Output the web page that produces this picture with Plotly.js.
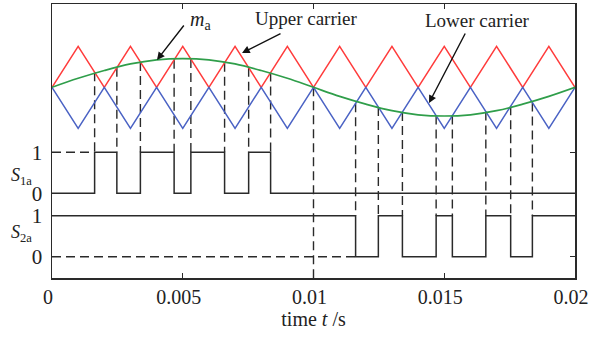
<!DOCTYPE html>
<html>
<head>
<meta charset="utf-8">
<script src="https://cdn.plot.ly/plotly-3.0.1.min.js"></script>
<style>html,body{margin:0;padding:0;background:#fff;}#chart{width:589px;height:337px;}</style>
</head>
<body>
<div id="chart"></div>
<script>
// ---- data ----
const carrierTime = [0,0.001,0.002,0.003,0.004,0.005,0.006,0.007,0.008,0.009,0.010,
                     0.011,0.012,0.013,0.014,0.015,0.016,0.017,0.018,0.019,0.020];
const upperCarrier = [0,1,0,1,0,1,0,1,0,1,0,1,0,1,0,1,0,1,0,1,0];
const lowerCarrier = [0,-1,0,-1,0,-1,0,-1,0,-1,0,-1,0,-1,0,-1,0,-1,0,-1,0];
const modulationMa = [0,0.22,0.41,0.57,0.67,0.70,0.67,0.57,0.41,0.22,0,
                      -0.22,-0.41,-0.57,-0.67,-0.70,-0.67,-0.57,-0.41,-0.22,0];

const s1Times  = [0,0.00163,0.00248,0.00338,0.00467,0.00531,0.00660,0.00752,0.00836,0.020];
const s1Values = [0,1,0,1,0,1,0,1,0,0];
const s2Times  = [0,0.01161,0.01248,0.01340,0.01469,0.01531,0.01659,0.01754,0.01837,0.020];
const s2Values = [1,0,1,0,1,0,1,0,1,1];

const xTickVals = [0,0.005,0.01,0.015,0.02];
const xTickText = ['0','0.005','0.01','0.015','0.02'];
const stateTickText = ['1','0','1','0'];

// ---- layout constants (vertical placement of the switching-state rows) ----
const S1_OFF = -2.585;
const S2_OFF = -4.132;
const Y_RANGE = [-4.651, 2.032];

function interp(xs, ys, t){
  for(let i=0;i<xs.length-1;i++){
    if(t>=xs[i] && t<=xs[i+1]){
      const f=(t-xs[i])/(xs[i+1]-xs[i]);
      return ys[i]+f*(ys[i+1]-ys[i]);
    }
  }
  return ys[ys.length-1];
}

// dashed guide lines
const dx=[], dy=[];
s1Times.slice(1,-1).forEach(t=>{ dx.push(t,t,null); dy.push(interp(carrierTime,upperCarrier,t), S1_OFF+1, null); });
s2Times.slice(1,-1).forEach(t=>{ dx.push(t,t,null); dy.push(interp(carrierTime,lowerCarrier,t), S2_OFF+1, null); });
dx.push(0.01,0.01,null); dy.push(0, Y_RANGE[0], null);
// horizontal dashed references
dx.push(0, s1Times[1], null); dy.push(S1_OFF+1, S1_OFF+1, null);
dx.push(0, s2Times[1], null); dy.push(S2_OFF, S2_OFF, null);

const dark='#2a2a2a';
const traces = [
  {x:dx, y:dy, mode:'lines', line:{color:dark,width:1.4,dash:'9px,5px'}, hoverinfo:'skip'},
  {x:carrierTime, y:upperCarrier, mode:'lines', line:{color:'#ff3b3b',width:1.5}, hoverinfo:'skip'},
  {x:carrierTime, y:lowerCarrier, mode:'lines', line:{color:'#4a62c4',width:1.5}, hoverinfo:'skip'},
  {x:carrierTime, y:modulationMa, mode:'lines', line:{color:'#2f9e4a',width:1.7,shape:'spline'}, hoverinfo:'skip'},
  {x:s1Times, y:s1Values.map(v=>v+S1_OFF), mode:'lines', line:{color:dark,width:1.5,shape:'hv'}, hoverinfo:'skip'},
  {x:s2Times, y:s2Values.map(v=>v+S2_OFF), mode:'lines', line:{color:dark,width:1.5,shape:'hv'}, hoverinfo:'skip'}
];

const serif='Liberation Serif, Times New Roman, serif';
const layout = {
  width:589, height:337,
  margin:{l:52,r:14,t:4,b:59},
  paper_bgcolor:'#fff', plot_bgcolor:'#fff',
  showlegend:false,
  font:{family:serif, color:'#222', size:20},
  xaxis:{
    range:[0,0.02], tickvals:xTickVals, ticktext:xTickText,
    ticks:'inside', ticklen:5, tickcolor:dark, tickwidth:1.3,
    showline:true, linecolor:dark, linewidth:1.5, mirror:'ticks',
    showgrid:false, zeroline:false, ticklabelshift:-4,
    tickfont:{family:serif,size:20,color:'#222'},
    title:{text:'time <i>t</i> /s', font:{family:serif,size:20,color:'#222'}, standoff:4}
  },
  yaxis:{
    range:Y_RANGE, tickvals:[S1_OFF+1,S1_OFF,S2_OFF+1,S2_OFF], ticktext:stateTickText,
    ticks:'inside', ticklen:5, tickcolor:dark, tickwidth:1.3,
    showline:true, linecolor:dark, linewidth:1.5, mirror:true,
    showgrid:false, zeroline:false, ticklabelstandoff:4,
    tickfont:{family:serif,size:21,color:'#222'}
  },
  yaxis2:{
    overlaying:'y', side:'right', range:Y_RANGE,
    tickvals:[S1_OFF+1,S2_OFF], showticklabels:false,
    ticks:'inside', ticklen:5, tickcolor:dark, tickwidth:1.3,
    showline:false, showgrid:false, zeroline:false
  },
  annotations:[
    {x:0.00973, y:1.69, xref:'x', yref:'y', text:'Upper carrier', showarrow:false, font:{family:serif,size:19,color:'#222'}},
    {x:0.01627, y:1.64, xref:'x', yref:'y', text:'Lower carrier', showarrow:false, font:{family:serif,size:19,color:'#222'}},
    {x:0.00566, y:1.64, xref:'x', yref:'y', text:'<i>m</i><sub>a</sub>', showarrow:false, font:{family:serif,size:20,color:'#222'}},
    {x:0.004015, y:0.666, xref:'x', yref:'y', text:'', showarrow:true, arrowhead:2, arrowsize:1.1, arrowwidth:1.4, arrowcolor:'#111', ax:28, ay:-36},
    {x:0.007266, y:0.837, xref:'x', yref:'y', text:'', showarrow:true, arrowhead:2, arrowsize:1.1, arrowwidth:1.4, arrowcolor:'#111', ax:40, ay:-20},
    {x:0.014417, y:-0.383, xref:'x', yref:'y', text:'', showarrow:true, arrowhead:2, arrowsize:1.1, arrowwidth:1.4, arrowcolor:'#111', ax:37, ay:-71},
    {x:-0.036, xanchor:'right', y:-2.17, xref:'paper', yref:'y', text:'<i>S</i><sub>1a</sub>', showarrow:false, borderpad:0, font:{family:serif,size:18,color:'#222'}},
    {x:-0.036, xanchor:'right', y:-3.56, xref:'paper', yref:'y', text:'<i>S</i><sub>2a</sub>', showarrow:false, borderpad:0, font:{family:serif,size:18,color:'#222'}}
  ]
};
// attach the right-side tick axis with an invisible trace
traces.push({x:[0], y:[0], yaxis:'y2', mode:'markers', marker:{opacity:0}, hoverinfo:'skip'});

Plotly.newPlot('chart', traces, layout, {staticPlot:true, displayModeBar:false});
</script>
</body>
</html>
